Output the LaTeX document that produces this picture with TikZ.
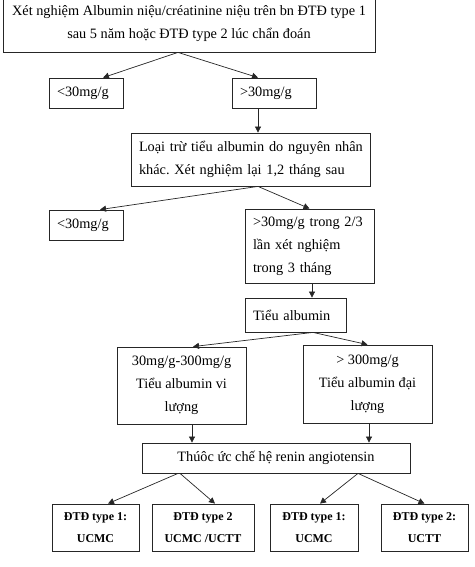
\documentclass[tikz,border=0pt]{standalone}
\usepackage{fontspec}
\setmainfont{Liberation Serif}
\frenchspacing
\usetikzlibrary{arrows.meta}
\tikzset{
    rbox/.style={draw=black!85, line width=0.8pt, inner xsep=8pt, inner ysep=0pt, font=\fontsize{14.3}{23}\selectfont},
    rleft/.style={rbox, align=left},
    rmid/.style={rbox, align=center},
    rsmall/.style={rbox, align=center, inner xsep=2pt, minimum height=47pt, font=\fontsize{12}{22.5}\selectfont\bfseries},
    rline/.style={-{Triangle[length=6pt,width=6pt]}, line width=0.7pt, black!85}
}
\begin{document}
\begin{tikzpicture}[x=1pt, y=-1pt]
    \useasboundingbox (0,0) rectangle (474,567);
    % first test
    \node[rmid, minimum width=372pt, minimum height=56pt] (test) at (189,24) {Xét nghiệm Albumin niệu/créatinine niệu trên bn ĐTĐ type 1\\ sau 5 năm hoặc ĐTĐ type 2 lúc chẩn đoán};
    \node[rleft, text width=58pt, minimum height=30pt] (lo1) at (86,93) {<30mg/g};
    \node[rleft, text width=68pt, minimum height=30pt] (hi1) at (274,93) {>30mg/g};
    % repeat test
    \node[rleft, text width=223pt, minimum height=53pt] (excl) at (250.5,159.5) {\mbox{Loại trừ tiểu albumin do nguyên nhân}\\ \mbox{khác. Xét nghiệm lại 1,2 tháng sau}};
    \node[rleft, text width=58pt, minimum height=30pt] (lo2) at (86,225) {<30mg/g};
    \node[rleft, text width=113pt, minimum height=74pt] (hi2) at (309.5,246) {>30mg/g trong 2/3\\ lần xét nghiệm\\ trong 3 tháng};
    \node[rleft, text width=85pt, minimum height=34pt] (alb) at (295.5,315) {Tiểu albumin};
    % micro / macro
    \node[rmid, minimum width=129pt, minimum height=77pt] (micro) at (181.5,385.5) {30mg/g-300mg/g\\ Tiểu albumin vi\\ lượng};
    \node[rmid, minimum width=129pt, minimum height=78pt] (macro) at (367.5,384) {> 300mg/g\\ Tiểu albumin đại\\ lượng};
    \node[rmid, minimum width=268pt, minimum height=30pt] (drug) at (276,458) {Thúôc ức chế hệ renin angiotensin};
    % treatment boxes
    \foreach \n/\x/\w/\t in {t1/95.5/87/{ĐTĐ type 1:\\ UCMC}, t2/203/102/{ĐTĐ type 2\\ UCMC /UCTT}, t3/314/88/{ĐTĐ type 1:\\ UCMC}, t4/424.5/87/{ĐTĐ type 2:\\ UCTT}}{
        \node[rsmall, minimum width=\w pt] (\n) at (\x,527.5) {\t};
    }
    % connectors
    \draw[rline] ([xshift=-11pt]test.south) -- ([xshift=17pt]lo1.north);
    \draw[rline] ([xshift=-11pt]test.south) -- ([xshift=-16pt]hi1.north);
    \draw[rline] ([xshift=-16pt]hi1.south) -- ([xshift=7.5pt]excl.north);
    \draw[rline] ([xshift=7.5pt]excl.south) -- ([xshift=14pt]lo2.north);
    \draw[rline] ([xshift=7.5pt]excl.south) -- (hi2.north);
    \draw[rline] ([xshift=2.5pt]hi2.south) -- ([xshift=16.5pt]alb.north);
    \draw[rline] ([xshift=17.5pt]alb.south) -- ([xshift=11.5pt]micro.north);
    \draw[rline] ([xshift=17.5pt]alb.south) -- (macro.north);
    \draw[rline] ([xshift=10.5pt]micro.south) -- ([xshift=-84pt]drug.north);
    \draw[rline] ([xshift=1.5pt]macro.south) -- ([xshift=93pt]drug.north);
    \draw[rline] ([xshift=-98pt]drug.south) -- ([xshift=12.5pt]t1.north);
    \draw[rline] ([xshift=-96pt]drug.south) -- ([xshift=12pt]t2.north);
    \draw[rline] ([xshift=82pt]drug.south) -- ([xshift=6pt]t3.north);
    \draw[rline] ([xshift=82pt]drug.south) -- (t4.north);
\end{tikzpicture}
\end{document}
